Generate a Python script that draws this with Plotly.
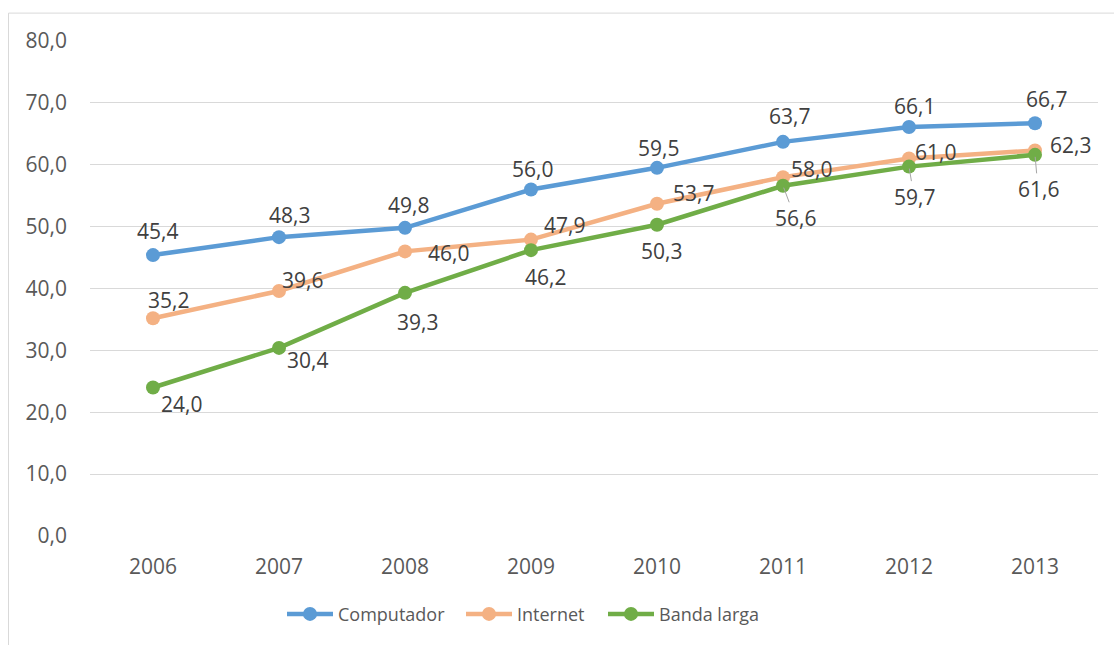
import plotly.graph_objects as go

# Share of households (%) by year
years = ["2006", "2007", "2008", "2009", "2010", "2011", "2012", "2013"]
computador = [45.4, 48.3, 49.8, 56.0, 59.5, 63.7, 66.1, 66.7]
internet = [35.2, 39.6, 46.0, 47.9, 53.7, 58.0, 61.0, 62.3]
banda_larga = [24.0, 30.4, 39.3, 46.2, 50.3, 56.6, 59.7, 61.6]

y_ticks = [0, 10, 20, 30, 40, 50, 60, 70, 80]

# Label offsets in pixels (dx, dy) from each point; dy positive = downward
comp_off = [(4, -24), (10, -22), (3, -23), (1, -21), (1, -20), (6, -26), (5, -21), (11, -24)]
inet_off = [(15, -18), (23, -11), (43, 2), (33, -15), (36, -11), (28, -8), (26, -7), (35, -6)]
band_off = [(28, 16), (28, 12), (12, 29), (14, 27), (4, 26), (12, 32), (5, 30), (3, 34)]
# points whose labels are joined by a leader line
band_leader = [False, False, False, False, False, True, True, True]

# left edge (px) of each legend entry
legend_left_px = [282, 461, 603]

FONT = "Open Sans"
LABEL_COLOR = "#404040"
AXIS_COLOR = "#595959"
GRID = "#D9D9D9"
NUM_SIZE = 21

L, R, T, B = 90, 16, 41, 107.3
W, H = 1114, 645
pw, ph = W - L - R, H - T - B

series = [
    ("Computador", computador, "#5B9BD5", comp_off, [False] * 8),
    ("Internet", internet, "#F4B183", inet_off, [False] * 8),
    ("Banda larga", banda_larga, "#70AD47", band_off, band_leader),
]

fig = go.Figure()
annotations = []
legend_layouts = {}
for k, (name, vals, color, offs, leaders) in enumerate(series):
    leg = "legend" if k == 0 else f"legend{k + 1}"
    fig.add_trace(go.Scatter(
        x=years, y=vals, name=name, mode="lines+markers",
        line=dict(color=color, width=4.5),
        marker=dict(color=color, size=14),
        hoverinfo="skip", legend=leg,
    ))
    legend_layouts[leg] = dict(
        orientation="h", x=(legend_left_px[k] - L) / pw, xanchor="left",
        y=-0.158, yanchor="middle",
        font=dict(family=FONT, size=18, color=AXIS_COLOR),
        itemwidth=46, bgcolor="rgba(0,0,0,0)",
    )
    for i, (v, (dx, dy), lead) in enumerate(zip(vals, offs, leaders)):
        text = f"{v:.1f}".replace(".", ",")
        font = dict(family=FONT, size=NUM_SIZE, color=LABEL_COLOR)
        if lead:
            annotations.append(dict(
                x=i, y=v, xref="x", yref="y", text=text, showarrow=True,
                ax=dx, ay=dy, arrowhead=0, arrowwidth=1,
                arrowcolor="#A6A6A6", standoff=2, font=font,
            ))
        else:
            annotations.append(dict(
                x=i, y=v, xref="x", yref="y", text=text, showarrow=False,
                xshift=dx, yshift=-dy, xanchor="center", yanchor="middle",
                font=font,
            ))

# outer chart frame
fig.add_shape(
    type="rect", xref="paper", yref="paper",
    x0=(8.5 - L) / pw, x1=(W + 6 - L) / pw,
    y0=(H - 650 - B) / ph, y1=(H - 13 - B) / ph,
    line=dict(color=GRID, width=1), fillcolor="rgba(0,0,0,0)", layer="below",
)

fig.update_layout(
    width=W, height=H,
    margin=dict(l=L, r=R, t=T, b=B, pad=0),
    paper_bgcolor="white", plot_bgcolor="white",
    separators=",.",
    font=dict(family=FONT, size=NUM_SIZE, color=AXIS_COLOR),
    annotations=annotations,
    showlegend=True,
    xaxis=dict(
        type="category", range=[-0.5, 7.5], showgrid=False, zeroline=False,
        showline=False, ticks="", ticklabelstandoff=16,
        tickfont=dict(family=FONT, size=NUM_SIZE, color=AXIS_COLOR),
    ),
    yaxis=dict(
        range=[0, 80], tickvals=y_ticks, tickformat=".1f",
        showgrid=True, gridcolor=GRID, gridwidth=1, zeroline=False,
        showline=False, ticks="", ticklabelstandoff=22,
        tickfont=dict(family=FONT, size=NUM_SIZE, color=AXIS_COLOR),
    ),
    **legend_layouts,
)

fig.write_html("out.html")
